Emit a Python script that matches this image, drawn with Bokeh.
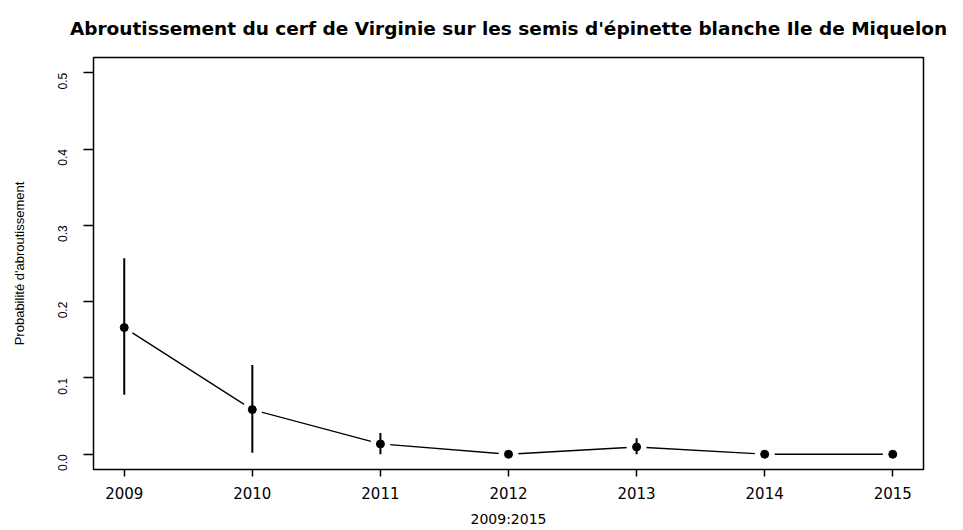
import math
from bokeh.plotting import figure
from bokeh.models import FixedTicker, PrintfTickFormatter, Range1d
from bokeh.embed import file_html
from bokeh.resources import INLINE

# Data
years = [2009, 2010, 2011, 2012, 2013, 2014, 2015]
prob = [0.166, 0.0585, 0.0135, 0.0, 0.0095, 0.0, 0.0]
lower = [0.078, 0.002, 0.0, 0.0, 0.0, 0.0, 0.0]
upper = [0.257, 0.117, 0.028, 0.0, 0.021, 0.0, 0.0]
y_ticks = [0.0, 0.1, 0.2, 0.3, 0.4, 0.5]

title_text = "Abroutissement du cerf de Virginie sur les semis d'épinette blanche Ile de Miquelon"
x_title = "2009:2015"
y_title = "Probabilité d'abroutissement"

p = figure(width=963, height=530, output_backend="svg", toolbar_location=None,
           x_range=Range1d(2008.76, 2015.24), y_range=Range1d(-0.02, 0.52),
           min_border_left=93, min_border_right=40, min_border_top=55, min_border_bottom=61,
           title=title_text)

p.title.text_font = "DejaVu Sans"
p.title.text_font_size = "18.5px"
p.title.text_font_style = "bold"
p.title.align = "center"
p.title.vertical_align = "top"
p.title.text_color = "black"
p.title.standoff = 34

p.background_fill_color = "white"
p.border_fill_color = "white"
p.outline_line_color = "black"
p.outline_line_width = 1.5
p.xgrid.visible = False
p.ygrid.visible = False

# x axis
p.xaxis.ticker = FixedTicker(ticks=years)
p.xaxis.axis_line_color = None
p.xaxis.major_tick_in = 0
p.xaxis.major_tick_out = 7
p.xaxis.major_tick_line_width = 1.5
p.xaxis.minor_tick_line_color = None
p.xaxis.major_label_text_font = "DejaVu Sans"
p.xaxis.major_label_text_font_size = "15px"
p.xaxis.major_label_text_color = "black"
p.xaxis.major_label_standoff = 10
p.xaxis.axis_label = x_title
p.xaxis.axis_label_text_font = "DejaVu Sans"
p.xaxis.axis_label_text_font_size = "14px"
p.xaxis.axis_label_text_font_style = "normal"
p.xaxis.axis_label_text_color = "black"
p.xaxis.axis_label_standoff = 9

# y axis
p.yaxis.ticker = FixedTicker(ticks=y_ticks)
p.yaxis.formatter = PrintfTickFormatter(format="%.1f")
p.yaxis.axis_line_color = None
p.yaxis.major_tick_in = 0
p.yaxis.major_tick_out = 10
p.yaxis.major_tick_line_width = 1.5
p.yaxis.minor_tick_line_color = None
p.yaxis.major_label_orientation = math.pi / 2
p.yaxis.major_label_text_font = "Liberation Sans"
p.yaxis.major_label_text_font_size = "12px"
p.yaxis.major_label_text_color = "black"
p.yaxis.major_label_standoff = 21
p.yaxis.axis_label = y_title
p.yaxis.axis_label_text_font = "Liberation Sans"
p.yaxis.axis_label_text_font_size = "13px"
p.yaxis.axis_label_text_font_style = "normal"
p.yaxis.axis_label_text_color = "black"
p.yaxis.axis_label_standoff = 24

# connecting line with gaps around points (type="b")
p.line(years, prob, line_color="black", line_width=1.3)
p.scatter(years, prob, size=20, fill_color="white", line_color=None)
# error bars
p.segment(x0=years, y0=lower, x1=years, y1=upper, line_color="black", line_width=2)
# points
p.scatter(years, prob, size=8, fill_color="black", line_color="black")

open("out.html", "w").write(file_html(p, INLINE))
